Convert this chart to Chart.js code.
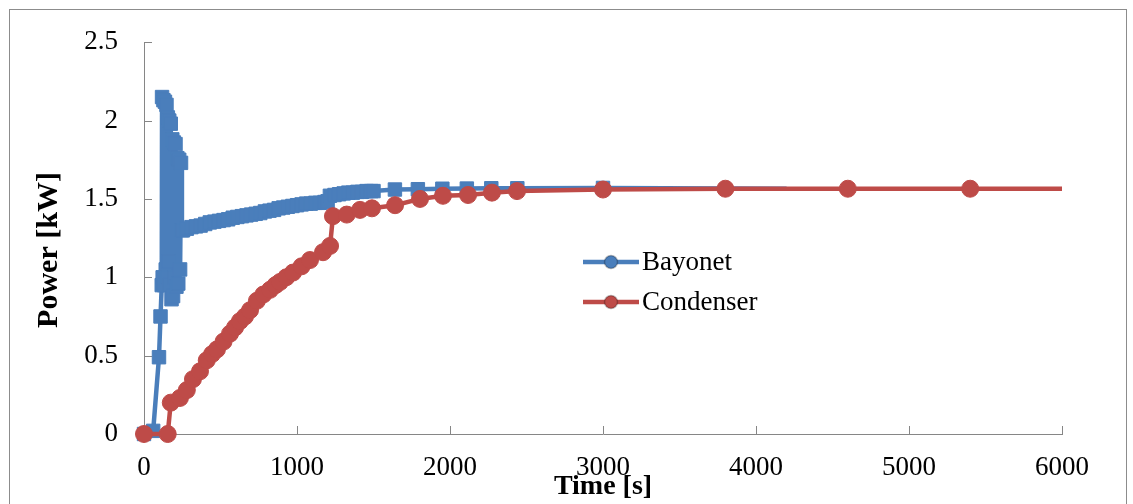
<!DOCTYPE html>
<html>
<head>
<meta charset="utf-8">
<title>Power vs Time</title>
<script src="https://cdn.jsdelivr.net/npm/chart.js@4.4.1/dist/chart.umd.min.js"></script>
<style>
    html, body { margin: 0; padding: 0; background: #fff; }
    #wrap { width: 1133px; height: 504px; }
</style>
</head>
<body>
<div id="wrap"><canvas id="powerChart" width="1133" height="504"></canvas></div>
<script>
// Bayonet series - time [s] and power [kW]
const bayonetTime = [
    0, 60, 98, 108, 116,
    118, 122, 127, 132, 137, 142, 147, 152, 156, 160,
    165, 170, 175, 180, 185, 190, 195, 200, 206, 212,
    218, 224, 230, 236, 242, 248,
    255, 280, 310, 340, 370, 400, 430, 460, 490, 520,
    550, 580, 610, 640, 670, 700, 730, 760, 790, 820,
    850, 880, 910, 940, 970, 1000, 1030, 1060, 1090, 1120,
    1150, 1180, 1200, 1215, 1245, 1275, 1305, 1335, 1365, 1395,
    1425, 1455, 1485, 1500, 1640, 1790, 1950, 2110, 2270, 2440,
    3000, 4200
];
const bayonetPower = [
    0, 0.02, 0.49, 0.75, 0.95,
    2.15, 1.00, 2.13, 0.95, 2.12, 1.05, 2.10, 1.00, 2.02, 1.10,
    2.00, 0.95, 1.98, 0.86, 1.88, 0.88, 1.86, 1.00, 1.85, 0.94,
    1.76, 0.96, 1.75, 1.05, 1.73, 1.30,
    1.30, 1.31, 1.32, 1.325, 1.33, 1.34, 1.35, 1.355, 1.36, 1.365,
    1.37, 1.38, 1.385, 1.39, 1.395, 1.40, 1.405, 1.41, 1.42, 1.425,
    1.43, 1.44, 1.445, 1.45, 1.455, 1.46, 1.465, 1.47, 1.47, 1.475,
    1.475, 1.48, 1.485, 1.52, 1.525, 1.53, 1.535, 1.54, 1.54, 1.545,
    1.545, 1.55, 1.55, 1.55, 1.56, 1.562, 1.565, 1.566, 1.568, 1.568,
    1.57, 1.565
];

// Condenser series
const condenserTime = [
    0, 155, 175, 235, 280, 320, 366, 410, 445, 477,
    520, 562, 595, 627, 660, 693, 738, 780, 824, 860,
    889, 930, 974, 1030, 1085, 1170, 1216, 1235, 1325, 1412,
    1490, 1641, 1804, 1954, 2118, 2274, 2438, 3000, 3800, 4600,
    5400, 6000
];
const condenserPower = [
    0, 0, 0.20, 0.23, 0.28, 0.35, 0.40, 0.47, 0.51, 0.54,
    0.59, 0.64, 0.68, 0.72, 0.75, 0.79, 0.85, 0.89, 0.92, 0.95,
    0.97, 1.00, 1.03, 1.07, 1.11, 1.16, 1.20, 1.39, 1.40, 1.43,
    1.44, 1.46, 1.50, 1.52, 1.525, 1.54, 1.55, 1.56, 1.565, 1.565,
    1.565, 1.565
];

const seriesNames = ['Bayonet', 'Condenser'];
const xAxisTitle = 'Time [s]';
const yAxisTitle = 'Power [kW]';

const BLUE = '#4a7ebb';
const RED = '#be4b48';
const AXIS_GREY = '#868686';
const FONT = '"Liberation Serif", "Times New Roman", serif';

function toPoints(xs, ys) {
    return xs.map((x, i) => ({ x: x, y: ys[i] }));
}

// Outer frame round the whole chart
const framePlugin = {
    id: 'frame',
    beforeDraw(chart) {
        const ctx = chart.ctx;
        ctx.save();
        ctx.strokeStyle = '#8c8c8c';
        ctx.lineWidth = 1;
        ctx.strokeRect(9.5, 9.5, 1117, 540);
        ctx.restore();
    }
};

// Tick marks pointing into the plot area
const innerTicksPlugin = {
    id: 'innerTicks',
    beforeDatasetsDraw(chart) {
        const ctx = chart.ctx;
        const area = chart.chartArea;
        const xs = chart.scales.x;
        const ys = chart.scales.y;
        ctx.save();
        ctx.strokeStyle = AXIS_GREY;
        ctx.lineWidth = 1;
        ctx.beginPath();
        xs.ticks.forEach(t => {
            const px = Math.round(xs.getPixelForValue(t.value)) + 0.5;
            ctx.moveTo(px, area.bottom);
            ctx.lineTo(px, area.bottom - 8);
        });
        ys.ticks.forEach(t => {
            const py = Math.round(ys.getPixelForValue(t.value)) + 0.5;
            ctx.moveTo(area.left, py);
            ctx.lineTo(area.left + 8, py);
        });
        ctx.stroke();
        ctx.restore();
    }
};

// Rotated y axis title
const yTitlePlugin = {
    id: 'yTitle',
    afterDraw(chart) {
        const ctx = chart.ctx;
        ctx.save();
        ctx.translate(49, 250);
        ctx.rotate(-Math.PI / 2);
        ctx.font = 'bold 30px ' + FONT;
        ctx.fillStyle = '#000';
        ctx.textAlign = 'center';
        ctx.textBaseline = 'middle';
        ctx.fillText(yAxisTitle, 0, 0);
        ctx.restore();
    }
};

// Legend inside the plot: line with a round marker, then the name
const legendPlugin = {
    id: 'insideLegend',
    afterDraw(chart) {
        const ctx = chart.ctx;
        const colors = [BLUE, RED];
        const rows = [262, 302];
        ctx.save();
        seriesNames.forEach((name, i) => {
            const y = rows[i];
            ctx.strokeStyle = colors[i];
            ctx.lineWidth = 4.5;
            ctx.beginPath();
            ctx.moveTo(583, y);
            ctx.lineTo(639, y);
            ctx.stroke();
            ctx.beginPath();
            ctx.arc(611, y, 6.5, 0, Math.PI * 2);
            ctx.fillStyle = colors[i];
            ctx.fill();
            ctx.lineWidth = 1.5;
            ctx.strokeStyle = 'rgba(0,0,0,0.25)';
            ctx.stroke();
            ctx.fillStyle = '#000';
            ctx.font = '27px ' + FONT;
            ctx.textAlign = 'left';
            ctx.textBaseline = 'middle';
            ctx.fillText(name, 642, y + 1);
        });
        ctx.restore();
    }
};

const lastBayonet = bayonetTime.length - 1;
const lastCondenser = condenserTime.length - 1;

new Chart(document.getElementById('powerChart').getContext('2d'), {
    type: 'line',
    data: {
        datasets: [{
            label: seriesNames[0],
            data: toPoints(bayonetTime, bayonetPower),
            borderColor: BLUE,
            backgroundColor: BLUE,
            borderWidth: 4.5,
            pointStyle: 'rect',
            pointRadius: ctx => ctx.dataIndex === lastBayonet ? 0 : 9.5,
            pointBorderWidth: 1,
            pointBackgroundColor: BLUE,
            pointBorderColor: BLUE,
            tension: 0,
            clip: false,
            order: 2
        }, {
            label: seriesNames[1],
            data: toPoints(condenserTime, condenserPower),
            borderColor: RED,
            backgroundColor: RED,
            borderWidth: 4.5,
            pointStyle: 'circle',
            pointRadius: ctx => ctx.dataIndex === lastCondenser ? 0 : 8.5,
            pointBorderWidth: 1,
            pointBackgroundColor: RED,
            pointBorderColor: RED,
            tension: 0,
            clip: false,
            order: 1
        }]
    },
    options: {
        responsive: false,
        animation: false,
        events: [],
        layout: {
            padding: { top: 37, right: 71, bottom: 0, left: 0 }
        },
        plugins: {
            legend: { display: false },
            tooltip: { enabled: false }
        },
        scales: {
            x: {
                type: 'linear',
                min: 0,
                max: 6000,
                afterFit: scale => { scale.height = 70; },
                ticks: {
                    stepSize: 1000,
                    padding: 18,
                    color: '#000',
                    maxRotation: 0,
                    callback: v => String(v),
                    font: { family: FONT, size: 27 }
                },
                grid: { display: true, drawOnChartArea: false, drawTicks: false },
                border: { color: AXIS_GREY, width: 1 },
                title: {
                    display: true,
                    text: xAxisTitle,
                    color: '#000',
                    padding: { top: 0, bottom: 0 },
                    font: { family: FONT, size: 28, weight: 'bold' }
                }
            },
            y: {
                min: 0,
                max: 2.5,
                afterFit: scale => { scale.width = 144; },
                ticks: {
                    stepSize: 0.5,
                    padding: 26,
                    color: '#000',
                    callback: v => String(Math.round(v * 10) / 10),
                    font: { family: FONT, size: 27 }
                },
                grid: { display: true, drawOnChartArea: false, drawTicks: false },
                border: { color: AXIS_GREY, width: 1 }
            }
        }
    },
    plugins: [framePlugin, innerTicksPlugin, yTitlePlugin, legendPlugin]
});
</script>
</body>
</html>
